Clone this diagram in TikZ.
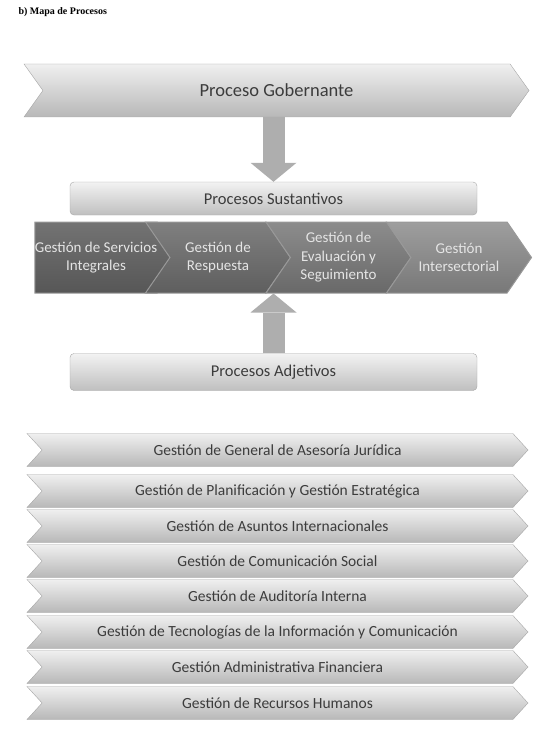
\documentclass[tikz,border=0pt]{standalone}
\usepackage{fontspec}
\setmainfont{Carlito}
\newfontfamily\titlefont{Liberation Serif}
\usetikzlibrary{shapes.symbols,arrows.meta,positioning}
\definecolor{txtgray}{HTML}{3C3C3C}
\definecolor{arrgray}{HTML}{AEAEAE}
\begin{document}
\begin{tikzpicture}[x=1pt,y=-1pt,
  chev/.style={signal,signal from=west,signal to=east,signal pointer angle=#1,draw=black!35,top color=black!6,bottom color=black!28,text=txtgray,inner sep=0pt},
  bar/.style={rectangle,rounded corners=4pt,draw=black!35,top color=black!5,bottom color=black!25,text=txtgray,minimum width=407pt,font=\fontsize{16.5}{18}\selectfont},
  seg/.style={signal,signal from=west,signal to=east,signal pointer angle=111,minimum width=145pt,minimum height=71pt,inner sep=0pt,draw=black!40,line width=1pt,text=black!10,align=center,font=\fontsize{15}{18.5}\selectfont},
  blockarrow/.style={draw=arrgray,line width=22pt,-{Triangle[width=46pt,length=19pt,line width=0pt]}}]
\useasboundingbox (0,0) rectangle (544,738);
\node[anchor=west,font=\titlefont\bfseries\fontsize{10}{12}\selectfont] (title) at (15,12) {b) Mapa de Procesos};
\node[chev=109,minimum width=505pt,minimum height=53pt,font=\fontsize{18.5}{20}\selectfont] (gob) at (276.5,90.5) {Proceso Gobernante};
\node[bar,minimum height=33pt] (sus) at (273.5,198.5) {Procesos Sustantivos};
\node[seg,signal from=nowhere,top color=black!55,bottom color=black!66] (seg1) at (96,257.5) {Gestión de Servicios\\Integrales};
\node[seg,top color=black!50,bottom color=black!63] (seg2) at (218,257.5) {Gestión de\\Respuesta};
\node[seg,top color=black!45,bottom color=black!59] (seg3) at (338.5,257.5) {Gestión de\\Evaluación y\\Seguimiento};
\node[seg,top color=black!38,bottom color=black!53] (seg4) at (459,257.5) {Gestión\\Intersectorial};
\node[bar,minimum height=37pt] (adj) at (273.5,372) {Procesos Adjetivos};
\draw[blockarrow] (gob.south -| sus.north) -- (sus.north);
\draw[blockarrow] (adj.north) -- (adj.north |- seg2.south);
\foreach \txt/\yy [count=\i] in {Gestión de General de Asesoría Jurídica/450,
  Gestión de Planificación y Gestión Estratégica/491,
  Gestión de Asuntos Internacionales/526,
  Gestión de Comunicación Social/561,
  Gestión de Auditoría Interna/596,
  Gestión de Tecnologías de la Información y Comunicación/632,
  Gestión Administrativa Financiera/667,
  Gestión de Recursos Humanos/703}
  \node[chev=95,minimum width=501pt,minimum height=33pt,font=\fontsize{15.5}{17}\selectfont] (sup\i) at (277.5,\yy) {\txt};
\end{tikzpicture}
\end{document}
